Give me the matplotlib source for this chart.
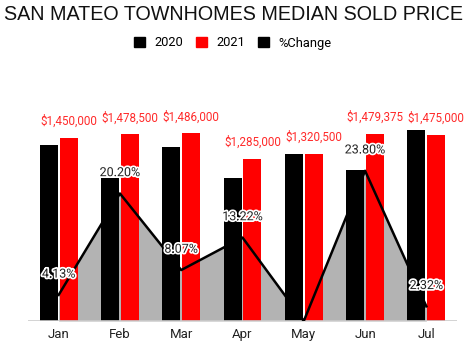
import matplotlib
matplotlib.use('Agg')
import matplotlib.pyplot as plt
from matplotlib.patches import Patch
import matplotlib.patheffects as pe
import numpy as np

months = ['Jan', 'Feb', 'Mar', 'Apr', 'May', 'Jun', 'Jul']
price_2020 = [1395000, 1133000, 1379000, 1133000, 1320500, 1197000, 1514000]
price_2021 = [1450000, 1478500, 1486000, 1285000, 1320500, 1479375, 1475000]
pct_change = [4.13, 20.20, 8.07, 13.22, 0.0, 23.80, 2.32]

W, H = 472, 350
fig = plt.figure(figsize=(W / 100, H / 100), dpi=100)
rect = [28 / W, 29 / H, 429 / W, 202 / H]

x = np.arange(len(months))
gray = '#b3b3b3'

# area sits behind the bars, the line on top of them
ax_area = fig.add_axes(rect)
ax = fig.add_axes(rect)
ax_line = fig.add_axes(rect)
for a in (ax_area, ax, ax_line):
    a.set_xlim(-0.5, len(months) - 0.5)
    a.patch.set_visible(False)
    for s in a.spines.values():
        s.set_visible(False)
    a.set_yticks([])
for a in (ax_area, ax_line):
    a.set_ylim(0, 32)
    a.set_xticks([])

ax_area.fill_between(x, pct_change, 0, color=gray, lw=0)

w = 0.294
off = 0.163
ax.bar(x - off, price_2020, w, color='black')
ax.bar(x + off, price_2021, w, color='#ff0000')
ax.set_ylim(0, 1600000)
ax.axhline(0, color='#cccccc', lw=1.2)
ax.set_xticks(x)
ax.set_xticklabels(months, fontsize=9.5, color='#222222', family='Roboto')
ax.tick_params(axis='x', length=0, pad=5)

for xi, v in zip(x, price_2021):
    ax.annotate('${:,.0f}'.format(v), (xi + off, v), xytext=(0, 12),
                textcoords='offset points', ha='center', va='center',
                fontsize=8.4, color='#ff2a2a', family='Roboto')

ax_line.plot(x, pct_change, color='black', lw=1.8)
for xi, v in zip(x, pct_change):
    if v == 0:
        continue
    ax_line.annotate('{:.2f}%'.format(v), (xi, v), xytext=(0, 15),
                     textcoords='offset points', ha='center', va='center',
                     fontsize=9, color='#222222', family='Roboto',
                     path_effects=[pe.withStroke(linewidth=2.5, foreground='white')])

fig.text(0.494, 1 - 15 / H, 'SAN MATEO TOWNHOMES MEDIAN SOLD PRICE',
         ha='center', va='center', fontsize=14.2, family='Liberation Sans', color='#111111')

handles = [Patch(color='black', label='2020'),
           Patch(color='#ff0000', label='2021'),
           Patch(color='black', label='%Change')]
fig.legend(handles=handles, loc='center', bbox_to_anchor=(0.493, 1 - 43 / H), ncol=3,
           frameon=False, prop={'family': 'Roboto', 'size': 9.3},
           handlelength=0.85, handleheight=0.85, handletextpad=0.7, columnspacing=1.0)

fig.savefig('out.png', dpi=100)
